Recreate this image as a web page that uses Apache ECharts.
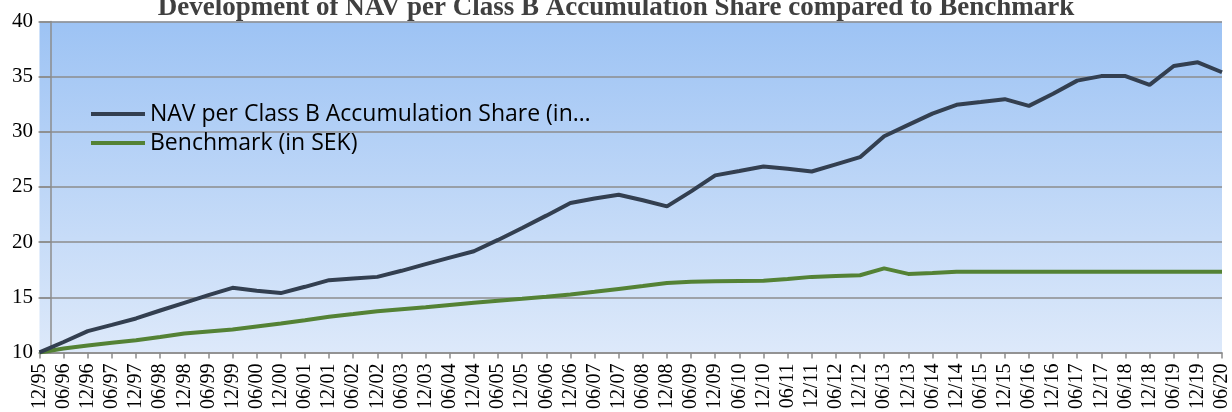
<!DOCTYPE html>
<html>
<head>
<meta charset="utf-8">
<script src="https://cdn.jsdelivr.net/npm/echarts@6/dist/echarts.min.js"></script>
<style>html,body{margin:0;padding:0;background:#fff;}#c{width:1232px;height:412px;}</style>
</head>
<body>
<div id="c"></div>
<script>
const categories = ['12/95','06/96','12/96','06/97','12/97','06/98','12/98','06/99','12/99','06/00',
  '12/00','06/01','12/01','06/02','12/02','06/03','12/03','06/04','12/04','06/05',
  '12/05','06/06','12/06','06/07','12/07','06/08','12/08','06/09','12/09','06/10',
  '12/10','06/11','12/11','06/12','12/12','06/13','12/13','06/14','12/14','06/15',
  '12/15','06/16','12/16','06/17','12/17','06/18','12/18','06/19','12/19','06/20'];
const navValues = [10, 10.95, 11.93, 12.5, 13.08, 13.8, 14.5, 15.2, 15.86, 15.6,
  15.38, 15.95, 16.55, 16.7, 16.85, 17.4, 18.0, 18.6, 19.17, 20.2,
  21.28, 22.4, 23.55, 23.95, 24.3, 23.8, 23.24, 24.6, 26.05, 26.45,
  26.86, 26.65, 26.4, 27.05, 27.7, 29.6, 30.63, 31.65, 32.45, 32.7,
  32.96, 32.35, 33.45, 34.64, 35.05, 35.05, 34.25, 35.97, 36.3, 35.4];
const benchValues = [10, 10.35, 10.63, 10.87, 11.11, 11.4, 11.72, 11.9, 12.08, 12.35,
  12.62, 12.92, 13.23, 13.48, 13.74, 13.92, 14.1, 14.3, 14.5, 14.68,
  14.86, 15.05, 15.25, 15.5, 15.76, 16.02, 16.3, 16.4, 16.45, 16.48,
  16.5, 16.65, 16.85, 16.93, 17.0, 17.62, 17.12, 17.2, 17.32, 17.32,
  17.32, 17.32, 17.32, 17.32, 17.32, 17.32, 17.32, 17.32, 17.32, 17.32];
const yTicks = {min: 10, max: 40, interval: 5};
const seriesNames = ['NAV per Class B Accumulation Share (in\u2026', 'Benchmark (in SEK)'];
const titleText = 'Development of NAV per Class B Accumulation Share compared to Benchmark';

const chart = echarts.init(document.getElementById('c'), null, {renderer: 'canvas'});
chart.setOption({
  animation: false,
  title: {
    text: titleText, left: 'center', top: -10,
    textStyle: {fontFamily: 'Liberation Serif', fontWeight: 'bold', fontSize: 27, color: '#404040'}
  },
  legend: {
    orient: 'vertical', left: 86, top: 97, itemWidth: 54, itemHeight: 4, itemGap: 5,
    icon: 'rect',
    textStyle: {fontFamily: 'Open Sans', fontSize: 23, lineHeight: 24, color: '#000'},
    data: seriesNames
  },
  grid: {
    left: 39.5, right: 9, top: 21.5, bottom: 59, show: true, borderWidth: 0,
    backgroundColor: new echarts.graphic.LinearGradient(0, 0, 0, 1, [
      {offset: 0, color: '#9DC3F4'}, {offset: 1, color: '#DDE9FA'}])
  },
  xAxis: {
    type: 'category', data: categories, boundaryGap: false,
    axisLine: {lineStyle: {color: '#8C8C8C', width: 1.5}},
    axisTick: {show: true, length: 6, interval: 0, lineStyle: {color: '#8C8C8C', width: 1.5}},
    axisLabel: {interval: 0, rotate: 90, margin: 11, fontFamily: 'Liberation Serif', fontSize: 20, color: '#000'},
    splitLine: {show: false}
  },
  yAxis: {
    type: 'value', min: yTicks.min, max: yTicks.max, interval: yTicks.interval, offset: -11.5,
    axisLine: {show: true, lineStyle: {color: '#8C8C8C', width: 1.5}},
    axisTick: {show: true, length: 12.5, lineStyle: {color: '#8C8C8C', width: 1.5}},
    axisLabel: {margin: 18, fontFamily: 'Liberation Serif', fontSize: 21, color: '#000'},
    splitLine: {lineStyle: {color: '#8C8C8C', width: 1.5}}
  },
  series: [
    {name: seriesNames[0], type: 'line', data: navValues, symbol: 'none', color: '#333F50',
     lineStyle: {width: 4, color: '#333F50'}, z: 3},
    {name: seriesNames[1], type: 'line', data: benchValues, symbol: 'none', color: '#548235',
     lineStyle: {width: 4, color: '#548235'}, z: 2}
  ]
});
</script>
</body>
</html>
